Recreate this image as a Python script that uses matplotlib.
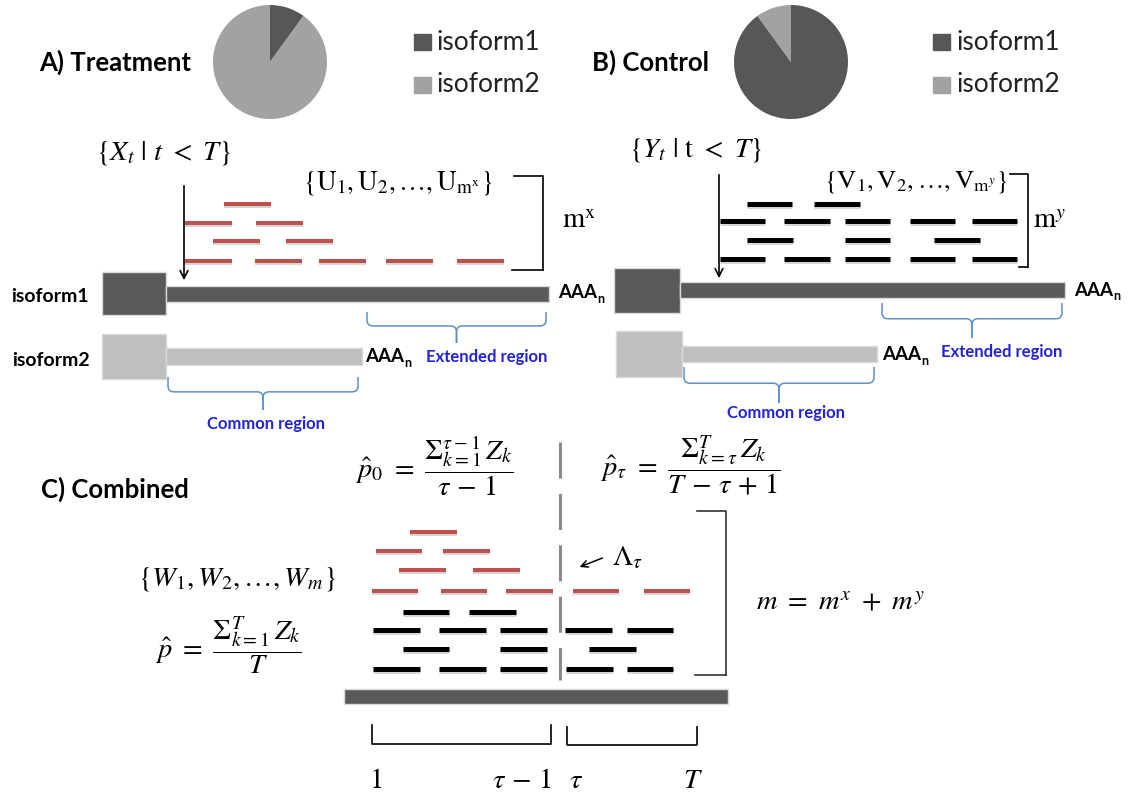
import matplotlib
matplotlib.use("Agg")
import matplotlib.pyplot as plt
from matplotlib.patches import Rectangle, PathPatch
from matplotlib.path import Path

plt.rcParams["mathtext.fontset"] = "stix"
plt.rcParams["lines.scale_dashes"] = False

# ---------------------------------------------------------------- data
ISOFORMS = ["isoform1", "isoform2"]
PIE_TREATMENT = [10, 90]     # share of isoform1 / isoform2 in treatment
PIE_CONTROL = [90, 10]       # share of isoform1 / isoform2 in control

# reads as (start, end, row) along the drawn transcripts
TREATMENT_READS = [(224, 271, 0), (185, 232, 1), (256, 303, 1), (213, 260, 2),
                   (286, 333, 2), (185, 232, 3), (255, 302, 3), (319, 366, 3),
                   (386, 433, 3), (457, 504, 3)]
CONTROL_READS = [(747, 792, 0), (814, 860, 0), (720, 765, 1), (784, 830, 1),
                 (845, 890, 1), (910, 955, 1), (972, 1017, 1), (747, 793, 2),
                 (845, 890, 2), (934, 980, 2), (720, 765, 3), (784, 830, 3),
                 (845, 890, 3), (910, 955, 3), (972, 1017, 3)]
COMBINED_RED = [(410, 457, 0), (376, 422, 1), (443, 490, 1), (399, 446, 2),
                (473, 520, 2), (372, 418, 3), (441, 487, 3), (506, 553, 3),
                (573, 619, 3), (644, 690, 3)]
COMBINED_BLACK = [(403, 449, 4), (469, 516, 4), (373, 420, 5), (439, 486, 5),
                  (500, 547, 5), (565, 612, 5), (627, 673, 5), (403, 449, 6),
                  (500, 547, 6), (589, 636, 6), (373, 420, 7), (439, 486, 7),
                  (500, 547, 7), (566, 613, 7), (627, 673, 7)]
ROWS_A = [204, 223, 241, 261]
ROWS_B = [204, 221, 240, 259]
ROWS_C = [532, 551, 570, 591, 612, 630, 649, 669]

BOTTOM_LABELS = [r"$1$", r"$\tau\,-\,1$", r"$\tau$", r"$T$"]

# ---------------------------------------------------------------- styles
DARK = "#595959"
LIGHT = "#bfbfbf"
PIE_DARK = "#575757"
PIE_LIGHT = "#a2a2a2"
RED = "#c0504d"
BLUE_TXT = "#2222dd"
BRACE = "#5b8fcf"
SANS = "Lato"
MATH = 20.5

W, H = 1129, 795
fig = plt.figure(figsize=(W / 100, H / 100), dpi=100)
ax = fig.add_axes([0, 0, 1, 1])
ax.set_xlim(0, W)
ax.set_ylim(H, 0)
ax.axis("off")
renderer = fig.canvas.get_renderer()


def pie(cx, cy, r, values):
    pa = fig.add_axes([(cx - r) / W, 1 - (cy + r) / H, 2 * r / W, 2 * r / H])
    pa.pie(values, colors=[PIE_DARK, PIE_LIGHT], startangle=90,
           counterclock=False, wedgeprops=dict(linewidth=0))
    pa.set_xlim(-1, 1)
    pa.set_ylim(-1, 1)
    pa.set_aspect("equal")
    pa.axis("off")


def legend(x, ys):
    for name, col, y in zip(ISOFORMS, [PIE_DARK, PIE_LIGHT], ys):
        ax.add_patch(Rectangle((x, y - 8), 17, 16, color=col))
        ax.text(x + 23, y, name, fontsize=19, family=SANS, va="center", ha="left",
                color="#222222")


def reads(items, rows, color, lw):
    for x0, x1, r in items:
        y = rows[r]
        ax.plot([x0, x1], [y + 1.6, y + 1.6], color="#d6d6d6", lw=lw,
                solid_capstyle="butt", zorder=2)
        ax.plot([x0, x1], [y, y], color=color, lw=lw, solid_capstyle="butt", zorder=3)


def box_and_bar(bx0, bx1, by0, by1, x_end, ty0, ty1, color):
    ax.add_patch(Rectangle((bx0, by0), bx1 - bx0, by1 - by0, facecolor=color,
                           edgecolor="#d9d9d9", lw=1.0, zorder=3))
    ax.add_patch(Rectangle((bx1, ty0), x_end - bx1, ty1 - ty0, facecolor=color,
                           edgecolor="#d9d9d9", lw=1.0, zorder=3))


def brace(x0, x1, ytop, ytip):
    xm = (x0 + x1) / 2
    ymid = ytop + 0.45 * (ytip - ytop)
    q = 6
    for a, s in [(x0, 1), (x1, -1)]:
        verts = [(a, ytop), (a, ymid - q), (a, ymid), (a + s * q, ymid),
                 (xm - s * q, ymid), (xm, ymid), (xm, ymid + q), (xm, ytip)]
        codes = [Path.MOVETO, Path.LINETO, Path.CURVE3, Path.CURVE3,
                 Path.LINETO, Path.CURVE3, Path.CURVE3, Path.LINETO]
        ax.add_patch(PathPatch(Path(verts, codes), fill=False, edgecolor=BRACE, lw=1.1))


def bracket(xa, xb_top, xb_bot, yt, yb, color="black", lw=1.2):
    ax.plot([xa, xb_top, xb_top], [yt, yt, yb], color=color, lw=lw)
    ax.plot([xb_bot, xb_top], [yb, yb], color=color, lw=lw)


def aaa(x, y):
    t = ax.text(x, y, "AAA", fontsize=13.5, fontweight="bold", family=SANS,
                va="center", ha="left")
    bb = t.get_window_extent(renderer=renderer)
    xr = ax.transData.inverted().transform((bb.x1, bb.y0))[0]
    ax.text(xr + 0.5, y + 6, "n", fontsize=9, fontweight="bold", family=SANS,
            va="center", ha="left")


def bold(x, y, s, size, ha="left", color="black"):
    ax.text(x, y, s, fontsize=size, fontweight="bold", family=SANS,
            va="center", ha=ha, color=color)


def math(x, y, s, size=MATH):
    ax.text(x, y, s, fontsize=size, ha="center", va="center")


# ---------------------------------------------------------------- panel A
bold(39, 62, "A) Treatment", 18.5)
pie(270, 62, 57, PIE_TREATMENT)
legend(414, [42, 85])
math(164, 153, r"$\{X_t\ |\ t\ <\ T\}$")
ax.annotate("", xy=(184, 283), xytext=(184, 183),
            arrowprops=dict(arrowstyle="->", lw=1.2, color="black", mutation_scale=14))
math(398, 183, r"$\{\mathrm{U}_1, \mathrm{U}_2, \ldots, \mathrm{U}_{\mathrm{m}^{\mathrm{x}}}\}$", 19.5)
reads(TREATMENT_READS, ROWS_A, RED, 2.9)
bracket(514, 543, 512, 176, 270)
math(579, 220, r"$\mathrm{m}^{\mathrm{x}}$")
bold(11, 297, "isoform1", 14)
bold(12, 360, "isoform2", 14)
box_and_bar(102, 166, 272, 315, 549, 286, 302, DARK)
box_and_bar(102, 166, 334, 379, 362, 348, 365, LIGHT)
aaa(558, 293)
aaa(365, 357)
brace(367, 546, 312, 343)
bold(487, 357, "Extended region", 12, ha="center", color=BLUE_TXT)
brace(168, 358, 377, 410)
bold(266, 424, "Common region", 12, ha="center", color=BLUE_TXT)

# ---------------------------------------------------------------- panel B
bold(592, 62, "B) Control", 18.5)
pie(791, 62, 57, PIE_CONTROL)
legend(933, [42, 85])
math(696, 150, r"$\{Y_t\ |\ \mathrm{t}\ <\ T\}$")
ax.annotate("", xy=(719, 281), xytext=(719, 172),
            arrowprops=dict(arrowstyle="->", lw=1.2, color="black", mutation_scale=14))
math(916, 182, r"$\{\mathrm{V}_1, \mathrm{V}_2, \ldots, \mathrm{V}_{\mathrm{m}^{y}}\}$", 19)
reads(CONTROL_READS, ROWS_B, "black", 3.6)
bracket(1010, 1028, 1019, 174, 267)
math(1050, 220, r"$\mathrm{m}^{y}$")
box_and_bar(614, 680, 268, 313, 1065, 282, 298, DARK)
box_and_bar(616, 682, 331, 377, 877, 346, 362, LIGHT)
aaa(1074, 290)
aaa(882, 355)
brace(882, 1062, 303, 338)
bold(1002, 352, "Extended region", 12, ha="center", color=BLUE_TXT)
brace(684, 874, 367, 403)
bold(786, 413, "Common region", 12, ha="center", color=BLUE_TXT)

# ---------------------------------------------------------------- panel C
bold(41, 489, "C) Combined", 18.5)
math(434, 466, r"$\hat{p}_0\ =\ \dfrac{\Sigma_{k=1}^{\tau-1}\, Z_k}{\tau\,-\,1}$")
math(690, 466, r"$\hat{p}_\tau\ =\ \dfrac{\Sigma_{k=\tau}^{T}\, Z_k}{T\,-\,\tau\,+\,1}$")
ax.plot([560, 560], [442, 680], color="#8c8c8c", lw=2.2,
        linestyle=(0, (26, 11)), solid_capstyle="butt", zorder=1)
ax.annotate("", xy=(577, 568), xytext=(605, 557),
            arrowprops=dict(arrowstyle="->", lw=1.1, color="black", mutation_scale=12))
math(627, 557, r"$\Lambda_\tau$")
math(237, 579, r"$\{W_1, W_2, \ldots, W_m\}$")
math(228, 645, r"$\hat{p}\ =\ \dfrac{\Sigma_{k=1}^{T}\, Z_k}{T}$")
reads(COMBINED_RED, ROWS_C, RED, 2.9)
reads(COMBINED_BLACK, ROWS_C, "black", 3.6)
bracket(697, 726, 695, 511, 675, color="#333333")
math(840, 602, r"$m\ =\ m^x\ +\ m^y$")
ax.add_patch(Rectangle((344, 689), 384, 15, facecolor=DARK, edgecolor="#d9d9d9",
                       lw=1.0, zorder=3))
ax.plot([372, 372, 551, 551], [725, 744, 744, 725], color="black", lw=1.2)
ax.plot([567, 567, 697, 697], [727, 745, 745, 727], color="black", lw=1.2)
for x, s in zip([376, 522, 576, 693], BOTTOM_LABELS):
    math(x, 780, s)

fig.savefig("out.png", dpi=100, facecolor="white")
